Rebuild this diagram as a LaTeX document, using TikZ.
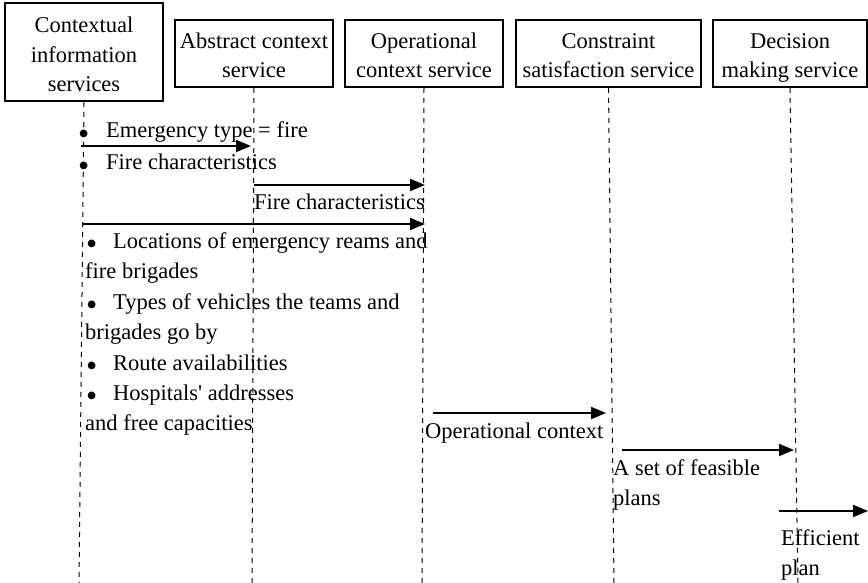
\documentclass[tikz,border=0pt]{standalone}
\usepackage{fontspec}
\setmainfont{Liberation Serif}
\usetikzlibrary{arrows.meta}
\newcommand{\bigbul}{\raisebox{-6.5pt}{\fontsize{32}{30}\selectfont\textbullet}}
\tikzset{
  box/.style={draw, line width=1.6pt, inner sep=0pt, align=center, text depth=0pt, font=\fontsize{22.5}{29.5}\selectfont},
  life/.style={line width=1pt, dash pattern=on 5pt off 5pt},
  msg/.style={line width=1.8pt, -{Triangle[length=15pt,width=12pt]}},
  lbl/.style={anchor=base west, inner sep=0pt, font=\fontsize{22.5}{30}\selectfont}
}
\begin{document}
\begin{tikzpicture}[x=1pt,y=-1pt]
\useasboundingbox (0,0) rectangle (868,583);
% boxes
\node[box, text height=80pt, minimum width=158pt, minimum height=98pt] (c1) at (84,52) {Contextual\\information\\services};
\node[box, text height=49pt, minimum width=158pt, minimum height=67pt] (c2) at (254,53.5) {Abstract context\\service};
\node[box, text height=49pt, minimum width=158pt, minimum height=67pt] (c3) at (424,53.5) {Operational\\context service};
\node[box, text height=49pt, minimum width=185pt, minimum height=67pt] (c4) at (608.5,53.5) {Constraint\\satisfaction service};
\node[box, text height=49pt, minimum width=154pt, minimum height=67pt] (c5) at (790,53.5) {Decision\\making service};
% lifeline ends
\coordinate (b1) at (79,583);
\coordinate (b2) at (252,583);
\coordinate (b3) at (422,583);
\coordinate (b4) at (614,583);
\coordinate (b5) at (798,583);
\draw[life] (c1.south) -- (b1);
\draw[life] (c2.south) -- (b2);
\draw[life] (c3.south) -- (b3);
\draw[life] (c4.south) -- (b4);
\draw[life] (c5.south) -- (b5);
% message end points
\coordinate (m1s) at (81,146);  \coordinate (m1e) at (251,146);
\coordinate (m2s) at (254,185); \coordinate (m2e) at (425,185);
\coordinate (m3s) at (82,224);  \coordinate (m3e) at (425,224);
\coordinate (m4s) at (433,413); \coordinate (m4e) at (606,413);
\coordinate (m5s) at (622,450); \coordinate (m5e) at (794,450);
\coordinate (m6s) at (779,511); \coordinate (m6e) at (868,511);
\draw[msg] (m1s) -- (m1e);
\draw[msg] (m2s) -- (m2e);
\draw[msg] (m3s) -- (m3e);
\draw[msg] (m4s) -- (m4e);
\draw[msg] (m5s) -- (m5e);
\draw[msg] (m6s) -- (m6e);
% labels
\node[lbl] (t1) at (78,138) {\makebox[28pt][l]{\bigbul}Emergency type = fire};
\node[lbl] (t2) at (78,170) {\makebox[28pt][l]{\bigbul}Fire characteristics};
\node[lbl] (t3) at (254,210) {Fire characteristics};
\node[lbl] (t4) at (86,248) {\makebox[27pt][l]{\bigbul}Locations of emergency reams and};
\node[lbl] (t5) at (85,278) {fire brigades};
\node[lbl] (t6) at (86,309) {\makebox[27pt][l]{\bigbul}Types of vehicles the teams and};
\node[lbl] (t7) at (85,339) {brigades go by};
\node[lbl] (t8) at (86,370) {\makebox[27pt][l]{\bigbul}Route availabilities};
\node[lbl] (t9) at (86,400) {\makebox[27pt][l]{\bigbul}Hospitals\textquotesingle{} addresses};
\node[lbl] (t10) at (85,430) {and free capacities};
\node[lbl] (t11) at (425,438) {Operational context};
\node[lbl] (t12) at (613,475) {A set of feasible};
\node[lbl] (t13) at (613,505) {plans};
\node[lbl] (t14) at (781,545) {Efficient};
\node[lbl] (t15) at (781,575) {plan};
\end{tikzpicture}
\end{document}
